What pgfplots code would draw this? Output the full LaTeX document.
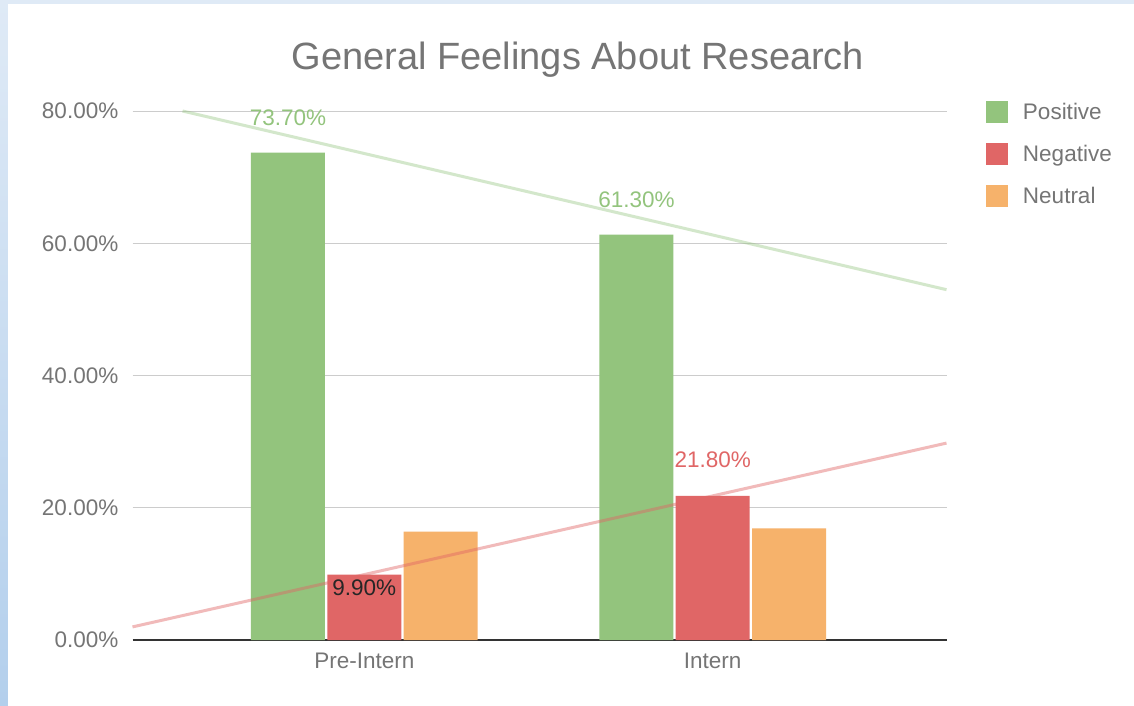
\documentclass[border=0pt]{standalone}
\usepackage{fontspec}
\setmainfont{Liberation Sans}
\usepackage{pgfplots}
\pgfplotsset{compat=1.18}
\definecolor{gpos}{HTML}{93C47D}
\definecolor{gneg}{HTML}{E06666}
\definecolor{gneu}{HTML}{F6B26B}
\definecolor{txt}{HTML}{757575}
\definecolor{gridc}{HTML}{CCCCCC}
\definecolor{bgtop}{HTML}{DFEAF6}
\definecolor{bgbot}{HTML}{B3CFEC}
\newcommand{\lblfont}{\fontsize{22.5pt}{27pt}\selectfont}
\begin{document}
\begin{tikzpicture}[x=1pt,y=1pt]
\useasboundingbox (0,0) rectangle (1134,705);
\shade[top color=bgtop, bottom color=bgbot] (0,0) rectangle (1134,705);
\fill[white] (8,-5) rectangle (1140,701);
\begin{axis}[
  at={(132.5pt,65pt)}, anchor=south west,
  scale only axis, width=814pt, height=529pt,
  xmin=-0.6652, xmax=1.671, ymin=0, ymax=80,
  ybar=2.3pt, bar width=74pt,
  axis line style={draw=none},
  major tick length=0pt,
  /pgf/number format/assume math mode=true,
  ytick={20,40,60,80},
  extra y ticks={0},
  extra y tick style={ymajorgrids=true, grid style={color=black!80, line width=1.3pt}},
  ymajorgrids, grid style={color=gridc, line width=1pt},
  yticklabel={\pgfmathprintnumber[fixed,fixed zerofill,precision=2]{\tick}\%},
  yticklabel style={font=\lblfont, text=txt, anchor=east, inner sep=0pt, xshift=-14pt},
  xtick={0,1}, xticklabels={Pre-Intern,Intern},
  xticklabel style={font=\lblfont, text=txt, anchor=base, inner sep=0pt, yshift=-28pt},
  legend style={at={(axis description cs:1.0485,1.0195)}, anchor=north west,
    draw=none, fill=none, inner sep=0pt, outer sep=0pt,
    row sep=20pt, column sep=15pt, font=\lblfont, text=txt,
    nodes={inner sep=0pt, text height=19pt, text depth=3pt}},
  legend cell align=left,
  legend image code/.code={\fill[#1, draw=none] (0pt,-11pt) rectangle (22pt,11pt);},
]
\addplot[fill=gpos, draw=none] coordinates {(0,73.7) (1,61.3)};
\addlegendentry{Positive}
\addplot[fill=gneg, draw=none] coordinates {(0,9.9) (1,21.8)};
\addlegendentry{Negative}
\addplot[fill=gneu, draw=none] coordinates {(0,16.4) (1,16.9)};
\addlegendentry{Neutral}
\end{axis}
\begin{axis}[
  at={(132.5pt,65pt)}, anchor=south west,
  scale only axis, width=814pt, height=529pt,
  xmin=-0.6652, xmax=1.671, ymin=0, ymax=80,
  hide axis, clip=false,
]
\addplot[gpos, opacity=0.4, line width=3pt] coordinates {(-0.5216,80.0) (1.671,52.98)};
\addplot[gneg, opacity=0.45, line width=3pt] coordinates {(-0.6652,1.98) (1.671,29.78)};
\node[font=\lblfont, text=gpos, inner sep=0pt, xshift=-76.3pt, yshift=35pt] at (axis cs:0,73.7) {73.70\%};
\node[font=\lblfont, text=gpos, inner sep=0pt, xshift=-76.3pt, yshift=35pt] at (axis cs:1,61.3) {61.30\%};
\node[font=\lblfont, text=gneg, inner sep=0pt, yshift=36pt] at (axis cs:1,21.8) {21.80\%};
\node[font=\lblfont, text=black!85, inner sep=0pt, yshift=-13.5pt] at (axis cs:0,9.9) {9.90\%};
\end{axis}
\node[font=\fontsize{38pt}{45pt}\selectfont, text=txt, anchor=base] at (578,635) {General Feelings About Research};
\end{tikzpicture}
\end{document}
